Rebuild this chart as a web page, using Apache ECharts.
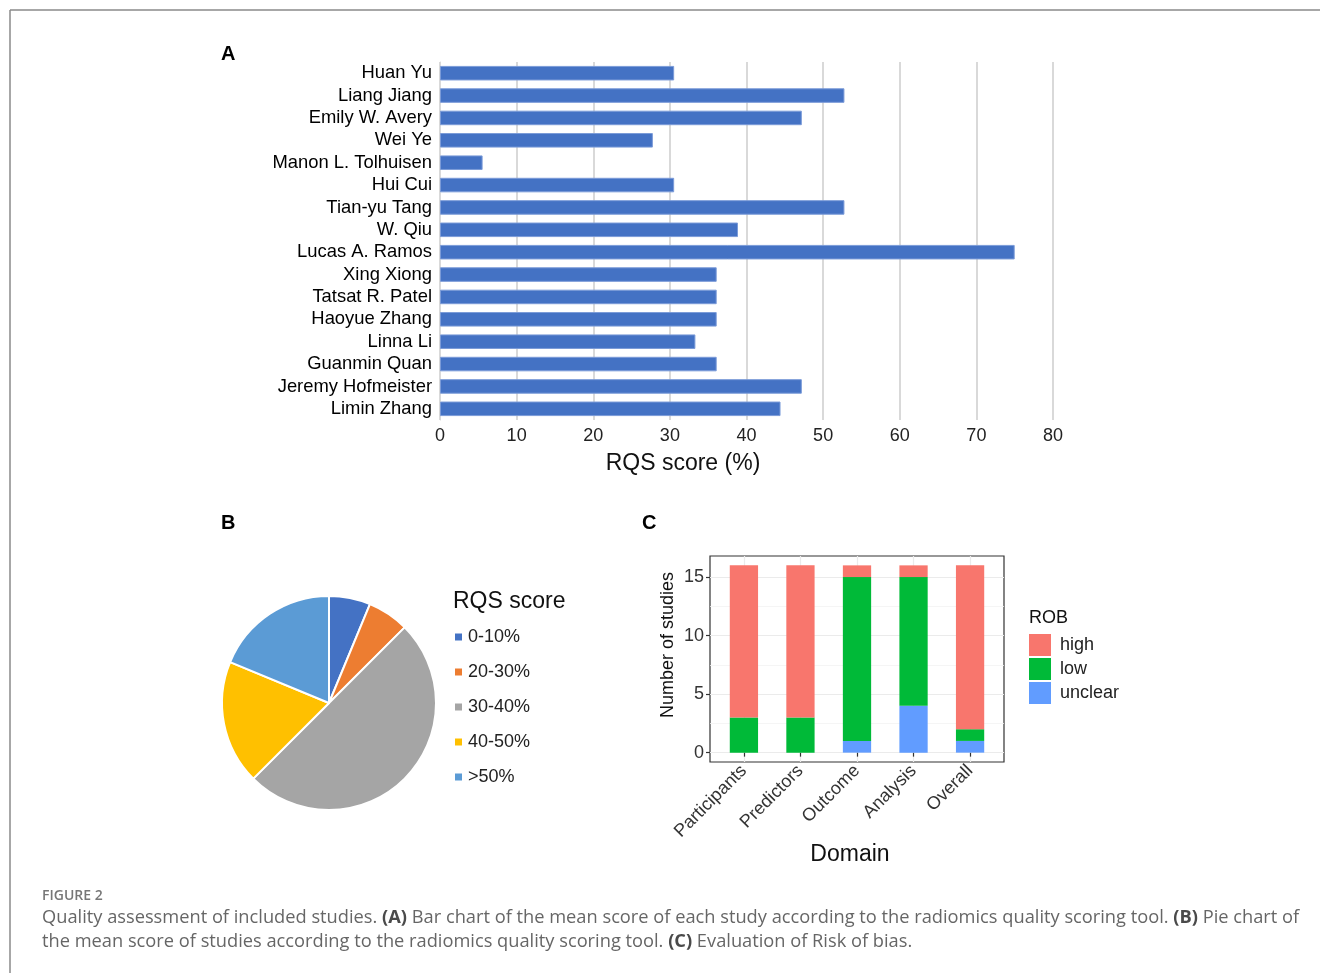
<!DOCTYPE html>
<html><head><meta charset="utf-8">
<script src="https://cdn.jsdelivr.net/npm/echarts@6/dist/echarts.min.js"></script>
<style>html,body{margin:0;padding:0;background:#fff}#c{width:1320px;height:973px}</style>
</head><body><div id="c"></div>
<script>
// ---- Panel A data ----
const studies = ['Huan Yu','Liang Jiang','Emily W. Avery','Wei Ye','Manon L. Tolhuisen','Hui Cui','Tian-yu Tang','W. Qiu','Lucas A. Ramos','Xing Xiong','Tatsat R. Patel','Haoyue Zhang','Linna Li','Guanmin Quan','Jeremy Hofmeister','Limin Zhang'];
const rqsScores = [30.56,52.78,47.22,27.78,5.56,30.56,52.78,38.89,75.0,36.11,36.11,36.11,33.33,36.11,47.22,44.44];
// ---- Panel B data ----
const pieLabels = ['0-10%','20-30%','30-40%','40-50%','>50%'];
const pieCounts = [1,1,8,3,3];
const pieColors = ['#4472C4','#ED7D31','#A5A5A5','#FFC000','#5B9BD5'];
// ---- Panel C data ----
const domains = ['Participants','Predictors','Outcome','Analysis','Overall'];
const robUnclear = [0,0,1,4,1];
const robLow = [3,3,14,11,1];
const robHigh = [13,13,1,1,14];
const robTicks = [0,5,10,15];
const robMinor = [2.5,7.5,12.5];

const F = '"Liberation Sans", Arial, sans-serif';
const CF = '"Open Sans", sans-serif';
const chart = echarts.init(document.getElementById('c'), null, {renderer:'canvas'});
const pos = domains.map((d,i)=>i+1);

// panel C layout (ggplot-style discrete expansion of 0.6 on each side)
const pL = 710, pT = 556, pW = 294, pH = 206;
const xMin = 0.4, xMax = domains.length + 0.6;
const unit = pW / (xMax - xMin);
const yMin = -0.8, yMax = 16.8;

const option = {
  animation:false,
  backgroundColor:'#fff',
  textStyle:{fontFamily:F},
  grid:[
    {left:440, top:62, width:613, height:358},
    {left:pL, top:pT, width:pW, height:pH, show:true, borderColor:'#333', borderWidth:1.2, backgroundColor:'#fff'},
    {left:pL + (0.5 - xMin)*unit, top:pT, width:domains.length*unit, height:pH}
  ],
  xAxis:[
    {gridIndex:0, type:'value', min:0, max:80, interval:10,
     axisLine:{show:false}, axisTick:{show:false},
     axisLabel:{fontSize:18, color:'#222', margin:7, fontFamily:F},
     splitLine:{lineStyle:{color:'#d9d9d9', width:2}}},
    {gridIndex:1, type:'value', min:xMin, max:xMax,
     axisLine:{show:false},
     axisTick:{show:true, length:4, customValues:pos, lineStyle:{color:'#333', width:1.2}},
     axisLabel:{customValues:pos, formatter:(v)=>domains[Math.round(v)-1]||'', rotate:45, fontSize:18, color:'#333', margin:6, fontFamily:F},
     splitLine:{show:true, lineStyle:{color:'#ebebeb', width:1.2}}},
    {gridIndex:2, type:'category', data:domains, boundaryGap:true, show:false}
  ],
  yAxis:[
    {gridIndex:0, type:'category', inverse:true, data:studies,
     axisLine:{show:true, lineStyle:{color:'#d9d9d9', width:1}}, axisTick:{show:false},
     axisLabel:{interval:0, fontSize:18.4, color:'#000', margin:8, fontFamily:F, padding:[3,0,0,0]}},
    {gridIndex:1, type:'value', min:yMin, max:yMax,
     axisLine:{show:false},
     axisTick:{show:true, length:4, customValues:robTicks, lineStyle:{color:'#333', width:1.2}},
     axisLabel:{customValues:robTicks, fontSize:18, color:'#333', margin:6, fontFamily:F},
     splitLine:{show:true, lineStyle:{color:'#ebebeb', width:1.2}}},
    {gridIndex:1, type:'value', min:yMin, max:yMax, position:'left',
     axisLine:{show:false},
     axisTick:{show:false, customValues:robMinor},
     axisLabel:{show:false, customValues:robMinor},
     splitLine:{show:true, lineStyle:{color:'#f3f3f3', width:0.8}}},
    {gridIndex:2, type:'value', min:yMin, max:yMax, show:false, splitLine:{show:false}}
  ],
  legend:[
    {data:pieLabels, orient:'vertical', left:448, top:622, icon:'rect', itemWidth:9, itemHeight:9, itemGap:15,
     selectedMode:false, textStyle:{fontSize:18, color:'#222', lineHeight:20, fontFamily:F}},
    {data:['high','low','unclear'], orient:'vertical', left:1024, top:629, icon:'rect', itemWidth:22, itemHeight:22, itemGap:2,
     selectedMode:false, textStyle:{fontSize:18, color:'#222', padding:[0,0,0,4], fontFamily:F}}
  ],
  series:[
    {type:'bar', xAxisIndex:0, yAxisIndex:0, data:rqsScores, barCategoryGap:'35%',
     itemStyle:{color:'#4472C4', borderColor:'#7b9bd8', borderWidth:1}, silent:true},
    {type:'pie', center:[329,703], radius:107, startAngle:90, clockwise:true,
     label:{show:false}, labelLine:{show:false}, silent:true,
     itemStyle:{borderColor:'#fff', borderWidth:2},
     data:pieLabels.map((n,i)=>({name:n, value:pieCounts[i], itemStyle:{color:pieColors[i]}}))},
    {name:'unclear', type:'bar', xAxisIndex:2, yAxisIndex:3, stack:'rob', barWidth:'50%',
     itemStyle:{color:'#619CFF'}, data:robUnclear, silent:true},
    {name:'low', type:'bar', xAxisIndex:2, yAxisIndex:3, stack:'rob', barWidth:'50%',
     itemStyle:{color:'#00BA38'}, data:robLow, silent:true},
    {name:'high', type:'bar', xAxisIndex:2, yAxisIndex:3, stack:'rob', barWidth:'50%',
     itemStyle:{color:'#F8766D'}, data:robHigh, silent:true}
  ],
  graphic:[
    {type:'line', shape:{x1:10,y1:10,x2:1320,y2:10}, style:{stroke:'#8a8a8a', lineWidth:1.5}, silent:true},
    {type:'line', shape:{x1:10,y1:10,x2:10,y2:973}, style:{stroke:'#8a8a8a', lineWidth:1.5}, silent:true},
    {type:'text', x:221, y:54, style:{text:'A', fontSize:20, fontWeight:'bold', fontFamily:F, fill:'#000', verticalAlign:'middle'}},
    {type:'text', x:221, y:523, style:{text:'B', fontSize:20, fontWeight:'bold', fontFamily:F, fill:'#000', verticalAlign:'middle'}},
    {type:'text', x:642, y:523, style:{text:'C', fontSize:20, fontWeight:'bold', fontFamily:F, fill:'#000', verticalAlign:'middle'}},
    {type:'text', x:683, y:464, style:{text:'RQS score (%)', fontSize:23, fontFamily:F, fill:'#111', align:'center', verticalAlign:'middle'}},
    {type:'text', x:453, y:602, style:{text:'RQS score', fontSize:23, fontFamily:F, fill:'#111', verticalAlign:'middle'}},
    {type:'text', x:1029, y:618, style:{text:'ROB', fontSize:18, fontFamily:F, fill:'#111', verticalAlign:'middle'}},
    {type:'text', x:850, y:855, style:{text:'Domain', fontSize:23, fontFamily:F, fill:'#111', align:'center', verticalAlign:'middle'}},
    {type:'text', x:668, y:645, rotation:Math.PI/2, style:{text:'Number of studies', fontSize:18, fontFamily:F, fill:'#111', align:'center', verticalAlign:'middle'}},
    {type:'text', x:42, y:896, style:{text:'FIGURE 2', fontSize:14, fontWeight:600, fontFamily:CF, fill:'#777', verticalAlign:'middle'}},
    {type:'text', x:42, y:918, style:{text:'Quality assessment of included studies. {b|(A)} Bar chart of the mean score of each study according to the radiomics quality scoring tool. {b|(B)} Pie chart of',
      fontSize:18.25, fontFamily:CF, fill:'#666', verticalAlign:'middle',
      rich:{b:{fontSize:18.25, fontFamily:CF, fontWeight:'bold', fill:'#4a4a4a'}}}},
    {type:'text', x:42, y:942, style:{text:'the mean score of studies according to the radiomics quality scoring tool. {b|(C)} Evaluation of Risk of bias.',
      fontSize:18.25, fontFamily:CF, fill:'#666', verticalAlign:'middle',
      rich:{b:{fontSize:18.25, fontFamily:CF, fontWeight:'bold', fill:'#4a4a4a'}}}}
  ]
};
chart.setOption(option);
</script></body></html>
